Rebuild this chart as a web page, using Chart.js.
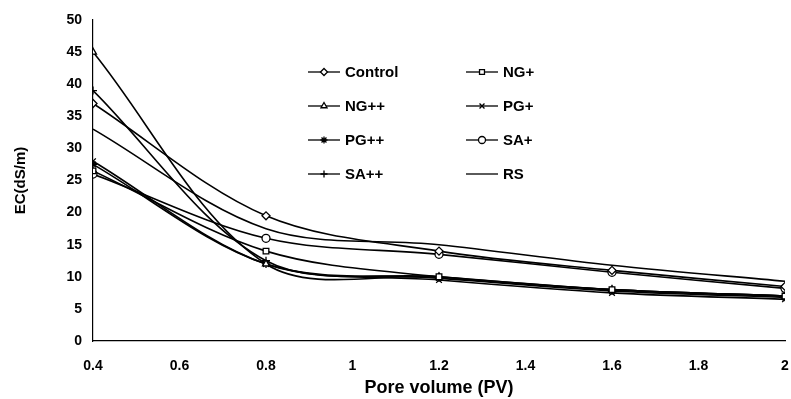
<!DOCTYPE html>
<html>
<head>
<meta charset="utf-8">
<script src="https://cdn.jsdelivr.net/npm/chart.js@4"></script>
<style>
  html, body { margin: 0; padding: 0; background: #fff; }
  #wrap { width: 791px; height: 399px; }
</style>
</head>
<body>
<div id="wrap"><canvas id="ec"></canvas></div>
<script>
const poreVolume = [0.4, 0.8, 1.2, 1.6, 2.0];
const xTickLabels = ['0.4', '0.6', '0.8', '1', '1.2', '1.4', '1.6', '1.8', '2'];

const seriesNames = ['Control', 'NG+', 'NG++', 'PG+', 'PG++', 'SA+', 'SA++', 'RS'];
const control = [37, 19.5, 14, 11, 8.5];
const ngPlus = [26.5, 14, 10, 8, 7];
const ngPlusPlus = [45, 12, 10, 8, 7];
const pgPlus = [28, 12, 9.5, 7.5, 6.5];
const pgPlusPlus = [27.5, 12, 9.8, 7.8, 6.8];
const saPlus = [26, 16, 13.5, 10.7, 8.2];
const saPlusPlus = [39, 12.5, 10, 8, 7];
const rs = [33, 17.5, 15, 11.8, 9.3];

const seriesValues = [control, ngPlus, ngPlusPlus, pgPlus, pgPlusPlus, saPlus, saPlusPlus, rs];
const markers = ['rectRot', 'rect', 'triangle', 'crossRot', 'star', 'circle', 'cross', false];

const font = 'Liberation Sans, Arial, sans-serif';

const datasets = seriesNames.map((name, i) => ({
    label: name,
    data: poreVolume.map((x, j) => ({ x: x, y: seriesValues[i][j] })),
    borderColor: '#000',
    backgroundColor: '#fff',
    borderWidth: 1.6,
    tension: 0.33,
    pointStyle: markers[i] || 'circle',
    pointRadius: markers[i] ? 4 : 0,
    pointBorderWidth: 1.3,
    pointBorderColor: '#000',
    pointBackgroundColor: '#fff'
}));

// legend drawn inside the plot, two columns like the original
const insideLegend = {
    id: 'insideLegend',
    afterDraw(chart) {
        const c = chart.ctx;
        c.save();
        c.textBaseline = 'middle';
        chart.data.datasets.forEach((ds, i) => {
            const col = i % 2, row = Math.floor(i / 2);
            const x0 = col === 0 ? 308 : 466;
            const y = 72 + row * 34;
            c.strokeStyle = '#000';
            c.lineWidth = 1.3;
            c.beginPath();
            c.moveTo(x0, y);
            c.lineTo(x0 + 32, y);
            c.stroke();
            if (markers[i]) {
                c.fillStyle = '#fff';
                Chart.helpers.drawPoint(c, { pointStyle: markers[i], radius: 3.5, borderWidth: 1.2 }, x0 + 16, y);
            }
            c.fillStyle = '#000';
            c.font = 'bold 15px ' + font;
            c.fillText(ds.label, x0 + 37, y + 1);
        });
        c.restore();
    }
};

new Chart(document.getElementById('ec'), {
    type: 'line',
    data: { datasets: datasets },
    options: {
        responsive: true,
        maintainAspectRatio: false,
        animation: false,
        layout: { padding: { top: 20, right: 0, left: 12, bottom: 0 } },
        plugins: { legend: { display: false }, tooltip: { enabled: false } },
        scales: {
            x: {
                type: 'linear',
                min: 0.4,
                max: 2,
                ticks: {
                    stepSize: 0.2,
                    color: '#000',
                    font: { family: font, size: 14, weight: 'bold' },
                    maxRotation: 0,
                    padding: 12,
                    callback: (v) => xTickLabels[Math.round((v - 0.4) / 0.2)]
                },
                grid: { display: false, drawTicks: true, tickLength: 5, tickColor: '#000' },
                border: { color: '#000', width: 1.2 },
                title: {
                    display: true,
                    text: 'Pore volume (PV)',
                    color: '#000',
                    font: { family: font, size: 18, weight: 'bold' },
                    padding: { top: 2, bottom: 0 }
                },
                afterFit: (s) => { s.height = 58; s.paddingRight = 6; }
            },
            y: {
                min: 0,
                max: 50,
                ticks: {
                    stepSize: 5,
                    color: '#000',
                    font: { family: font, size: 14, weight: 'bold' },
                    padding: 6
                },
                grid: { display: false, drawTicks: true, tickLength: 5, tickColor: '#000' },
                border: { color: '#000', width: 1.2 },
                title: {
                    display: true,
                    text: 'EC(dS/m)',
                    color: '#000',
                    font: { family: font, size: 15, weight: 'bold' },
                    padding: { top: 0, bottom: 8 }
                },
                afterFit: (s) => { s.width = 81; }
            }
        }
    },
    plugins: [insideLegend]
});
</script>
</body>
</html>
